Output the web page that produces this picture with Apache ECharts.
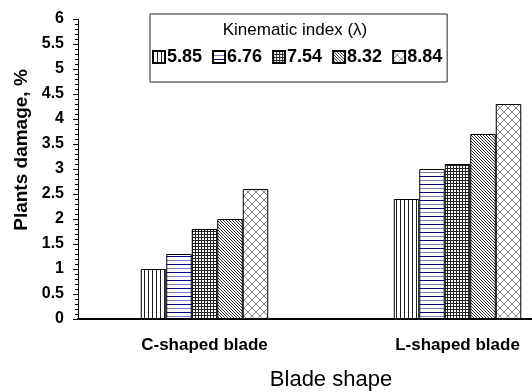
<!DOCTYPE html>
<html><head><meta charset="utf-8">
<script src="https://cdn.jsdelivr.net/npm/echarts@6/dist/echarts.min.js"></script>
<style>html,body{margin:0;padding:0;background:#fff}#c{width:532px;height:392px}</style>
</head><body><div id="c"></div>
<script>
const categories = ['C-shaped blade', 'L-shaped blade'];
const seriesNames = ['5.85', '6.76', '7.54', '8.32', '8.84'];
const s585 = [1.0, 2.4];
const s676 = [1.3, 3.0];
const s754 = [1.8, 3.1];
const s832 = [2.0, 3.7];
const s884 = [2.6, 4.3];
const yTicks = [0, 0.5, 1, 1.5, 2, 2.5, 3, 3.5, 4, 4.5, 5, 5.5, 6];

const FONT = 'Liberation Sans, Arial, sans-serif';

function pat(size, draw) {
  const c = document.createElement('canvas');
  c.width = size; c.height = size;
  const ctx = c.getContext('2d');
  ctx.fillStyle = '#fff'; ctx.fillRect(0, 0, size, size);
  draw(ctx, size);
  return { image: c, repeat: 'repeat' };
}
const patterns = [
  pat(4, (ctx) => { ctx.fillStyle = '#222'; ctx.fillRect(0, 0, 1, 4); }),
  pat(8, (ctx) => { ctx.fillStyle = '#000080'; ctx.fillRect(0, 0, 8, 1); ctx.fillStyle = '#7b7bc0'; ctx.fillRect(0, 4, 8, 1); }),
  pat(3, (ctx) => { ctx.fillStyle = '#222'; ctx.fillRect(0, 0, 3, 1); ctx.fillRect(0, 0, 1, 3); }),
  pat(3, (ctx, s) => { ctx.fillStyle = '#333'; for (let i = 0; i < s; i++) ctx.fillRect(i, i, 1, 1); }),
  pat(8, (ctx, s) => { ctx.fillStyle = '#8a8a8a'; for (let i = 0; i < s; i++) { ctx.fillRect(i, i, 1, 1); ctx.fillRect(s - 1 - i, i, 1, 1); } })
];
const values = [s585, s676, s754, s832, s884];

const chart = echarts.init(document.getElementById('c'), null, { renderer: 'canvas' });
chart.setOption({
  animation: false,
  backgroundColor: '#fff',
  textStyle: { fontFamily: FONT },
  grid: { left: 78, right: -52, top: 19, bottom: 73, containLabel: false, outerBoundsMode: 'none' },
  legend: {
    left: 150, top: 14,
    padding: [34, 5, 16, 2],
    borderColor: '#222', borderWidth: 1,
    itemWidth: 12, itemHeight: 12, itemGap: 10,
    icon: 'rect',
    textStyle: { fontFamily: FONT, fontWeight: 'bold', fontSize: 18, color: '#000', padding: [0, 0, 0, -3] },
    data: seriesNames
  },
  xAxis: {
    type: 'category',
    data: categories,
    name: 'Blade shape',
    nameLocation: 'middle',
    nameGap: 50,
    nameTextStyle: { fontFamily: FONT, fontSize: 22, color: '#000' },
    axisLine: { lineStyle: { color: '#000', width: 2 } },
    axisTick: { alignWithLabel: true, length: 8, lineStyle: { color: '#555' } },
    axisLabel: { fontFamily: FONT, fontWeight: 'bold', fontSize: 17, color: '#000', margin: 18 }
  },
  yAxis: {
    type: 'value',
    min: 0, max: 6, interval: 0.5,
    axisLine: { show: true, lineStyle: { color: '#000', width: 1 } },
    axisTick: { show: true, length: 5, lineStyle: { color: '#000' } },
    minorTick: { show: true, splitNumber: 5, length: 3, lineStyle: { color: '#000' } },
    splitLine: { show: false },
    axisLabel: {
      fontFamily: FONT, fontWeight: 'bold', fontSize: 16, color: '#000', margin: 14,
      formatter: (v) => String(yTicks.find(t => Math.abs(t - v) < 1e-9) ?? v)
    }
  },
  graphic: [
    { type: 'text', x: 22, y: 150, rotation: Math.PI / 2,
      style: { text: 'Plants damage, %', fontFamily: FONT, fontWeight: 'bold', fontSize: 19, fill: '#000', align: 'center', verticalAlign: 'middle' } },
    { type: 'text', x: 295, y: 30,
      style: { text: 'Kinematic index (λ)', fontFamily: FONT, fontSize: 17, fill: '#000', align: 'center', verticalAlign: 'middle' } }
  ],
  series: seriesNames.map((n, i) => ({
    name: n,
    type: 'bar',
    data: values[i],
    barWidth: 25.5,
    barGap: '0%',
    itemStyle: { color: patterns[i], borderColor: '#000', borderWidth: 1 }
  }))
});
</script></body></html>
